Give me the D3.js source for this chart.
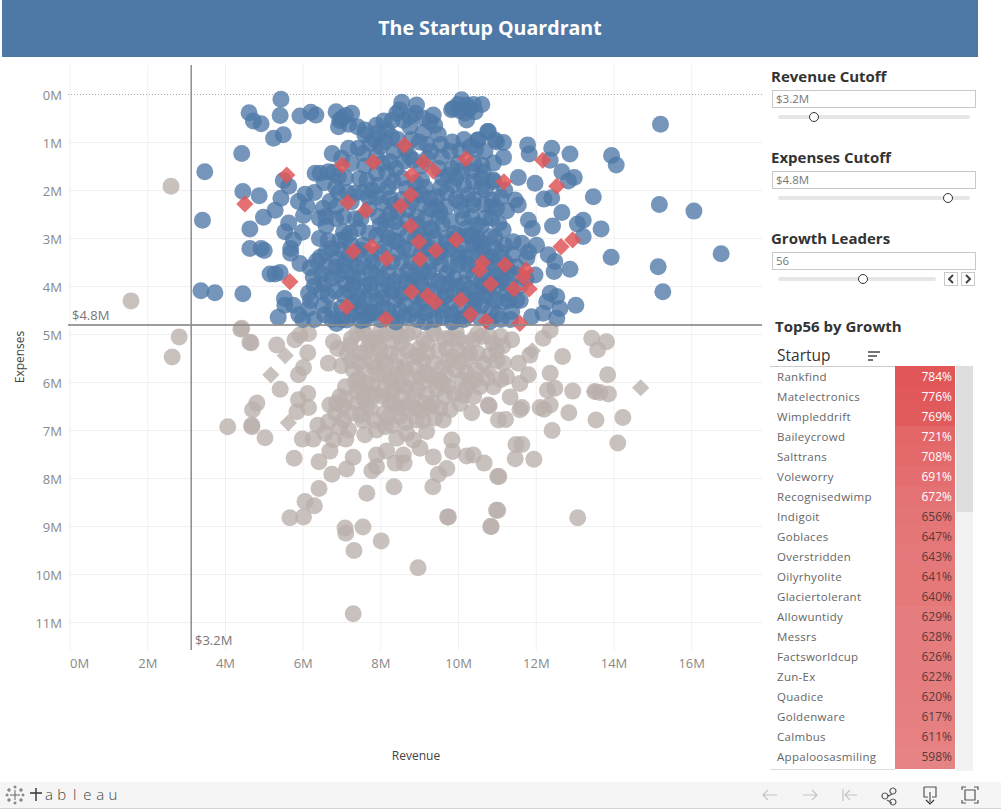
<!DOCTYPE html>
<html>
<head>
<meta charset="utf-8">
<script src="https://cdn.jsdelivr.net/npm/d3@7"></script>
<style>
html,body{margin:0;padding:0;background:#fff;overflow:hidden}
svg{display:block}
text{font-family:"Open Sans",sans-serif}
</style>
</head>
<body>
<svg id="viz" width="1001" height="811"></svg>
<script>
var xTicks = [0,2,4,6,8,10,12,14,16]
var yTicks = [0,1,2,3,4,5,6,7,8,9,10,11]
var revenueCutoff = 3.13, expensesCutoff = 4.81
var revenueLabel = "$3.2M", expensesLabel = "$4.8M", leadersLabel = "56"

var startups = ["Rankfind","Matelectronics","Wimpleddrift","Baileycrowd","Salttrans","Voleworry","Recognisedwimp","Indigoit","Goblaces","Overstridden","Oilyrhyolite","Glaciertolerant","Allowuntidy","Messrs","Factsworldcup","Zun-Ex","Quadice","Goldenware","Calmbus","Appaloosasmiling"]
var growth = [784,776,769,721,708,691,672,656,647,643,641,640,629,628,626,622,620,617,611,598]

// [revenue, expenses] in $M
var inQuadrant = [
[5.44,.11],[4.62,.39],[5.42,.45],[4.73,.56],[4.93,.62],[5.93,.46],[6.21,.38],[6.34,.44],[6.86,.37],[7.26,.40],[7,.51],[6.92,.68],[7.18,.63],[7.41,.68],[5.5,.85],[5.25,.92],[4.43,1.24],[3.48,1.62],[4.46,2.03],[4.88,2.12],[3.42,2.63],[4.64,2.81],[4.64,3.22],[4.93,3.22],[5.01,3.26],[4.99,2.57],[5.29,2.42],[5.44,2.17],[5.5,1.8],[5.64,1.92],[6.06,2.09],[5.89,2.24],[6.12,2.35],[6.02,2.53],[6.43,2.59],[5.64,2.69],[5.54,2.87],[5.99,2.88],[6.43,3.01],[5.76,3.04],[5.69,3.22],[5.69,3.32],[6.36,3.48],[5.93,3.53],[6.19,3.62],[6.27,3.81],[5.16,3.75],[5.29,3.75],[5.42,3.72],[3.38,4.1],[3.74,4.14],[4.46,4.16],[5.37,4.65],[5.54,4.4],[5.53,4.26],[5.76,4.4],[6.15,4.15],[6.15,4.47],[6.49,4.12],[6.56,4.6],[6.53,4.4],[6.32,1.65],[6.45,1.65],[6.66,1.62],[6.79,1.63],[6.76,1.24],[7,1.34],[7.18,1.13],[7.43,1.13],[7.46,1.76],[6.92,1.72],[6.92,2.05],[6.7,2.24],[6.53,2.38],[6.87,2.35],[7.35,2.07],[7.78,2],[7.43,2.8],[7.05,2.87],[7.22,2.9],[6.75,3.22],[6.87,3.42],[7.05,3.56],[6.92,3.77],[7.3,3.98],[7.05,4.19],[7.39,4.53],[7.13,4.71],[7.65,4.26],[7.69,4.6],[6.87,4.78],
[8.09,.56],[8.55,.17],[8.93,.23],[8.5,.33],[8.76,.47],[8.42,.4],[9.36,.44],[9.28,.58],[9.49,.84],[8.76,.68],[8.16,.75],[7.86,.96],[7.73,1.03],[7.56,1.24],[8,1.1],[8.29,.89],[8.61,1.4],[8.85,1.38],[8.25,1.41],[8.16,1.62],[7.9,1.65],[8.33,1.83],[8.06,2.28],[8.25,2.17],[8.68,1.97],[9.06,1.79],[9.28,2.17],[9.45,2.14],[9.88,1.9],[9.79,1.2],[10.05,1.17],[9.58,1.31],[9.84,1.55],[10.39,1.83],[10.91,1.83],[10.09,.12],[10.22,.23],[9.88,.3],[10.61,.22],[10.44,.37],[10.18,.4],[10.22,.54],[10.78,.78],[10.99,1],[10.52,.96],[10.69,1.2],[10.31,1.1],[10.91,1.44],[10.65,1.62],[10.87,2.21],[10.69,2.59],[10.48,2.73],[10.99,2.38],[10.13,2.59],[9.53,2.45],[8.93,2.56],[8.38,2.66],[8,2.73],[8.42,3.08],[9.28,2.8],[9.53,3.28],[10.01,3.42],[10.39,3.15],[10.82,2.97],[10.22,3.7],
[9.83,.33],[10.76,.78],[10.5,.96],[10.95,.96],[11.17,1.01],[11.79,1.06],[12.41,1.13],[12.88,1.25],[11.83,1.25],[13.95,1.28],[14.07,1.48],[15.21,.63],[11.17,1.32],[10.61,1.48],[12.37,1.38],[12.67,1.62],[12.99,1.74],[12.84,1.81],[11.55,1.74],[10.91,1.79],[11.98,1.86],[13.48,2.14],[15.18,2.3],[16.07,2.44],[12.41,2.16],[12.21,2.19],[11.47,2.21],[11.55,2.31],[12.67,2.47],[10.86,2.35],[11.25,2.43],[11.81,2.63],[11.91,2.8],[12.43,2.75],[13.22,2.63],[13.07,2.71],[13.22,2.97],[13.68,2.81],[11.16,2.83],[11.42,3.08],[11.64,3.11],[12.02,3.15],[11.81,3.29],[12.32,3.35],[12.49,3.49],[13.94,3.4],[12.88,3.65],[12.47,3.7],[15.15,3.6],[16.77,3.33],[15.27,4.12],[11.77,3.42],[11.98,3.77],[12.37,4.15],[12.54,4.22],[13.03,4.4],[12.62,4.47],[12.28,4.33],[11.89,4.64],[12.19,4.57],[12.54,4.67],[11.16,4.33],[11.38,4.53],[11.51,4.29],[10.99,3.77],[10.73,3.42],[10.95,3.22],[10.44,3.08],[10.65,3.22],[10.39,2.31],[10.86,2.59],[10.05,4.67],[10.82,4.74],[10.26,4.6],[10.48,4.12],[10.82,4.19],
[7.1,3],[7.4,3.3],[7.6,3.6],[7.3,3.8],[7.6,4],[7.9,3.8],[8,3.3],[8.2,3],[8.5,2.8],[8.3,3.5],[8.6,3.2],[8.8,3.5],[8.5,3.8],[8.2,4],[7.9,4.3],[8.2,4.5],[8.5,4.2],[8.8,4],[9.1,3.7],[9.3,3.5],[9.6,3.3],[9.8,3.6],[9.5,3.9],[9.2,4.1],[8.9,4.5],[9.3,4.5],[9.7,4.2],[10,4],[10.2,3.4],[10.4,3.8],[10.6,4.4],[10,4.5],[9.6,4.65],[8.6,4.65],[8,4.7],[7.6,4.7],[7.4,4.2],[8.7,2.4],[9,2.9],[9.3,2.4],[9.6,2.7],[9.9,2.9],[10.2,2.8],[10.5,3],[10.8,3.6],[11,4],[11.3,3.7],[11.3,4.3],[11,4.6],[8.9,2.1],
[7.7,2.4],[7.5,2.6],[7.9,2.95],[8.25,2.5],[8.7,2.65],[9.1,2.3],[9.4,3],[9.15,3.2],[8.9,3],[7.25,3.5],[7.8,3.5],[8.35,4.3],[8.65,4.4],[9.05,4.35],[9.5,4.4],[9.85,4.35],[10.3,4.3],[10.65,4],[10.9,3.9],[11.15,3.9],[11.5,3.6],[11.6,4],[11.2,3.5],[10.05,3.15],[10.25,2.95],[9.7,3],[8.95,3.85],[9.75,3.95],[8.05,4.1],[7.75,4.55],[7.3,4.35],[7.55,3.15],[7.25,3.15],[9.05,1.5],[9.3,1.2],[9,1],[8.65,1.15],[8.35,1.2],[9.6,1.75],[10.1,1.6],[10.4,1.45],[10.7,2],[10.25,2.1],[9.95,2.2],[9.7,2.35],[7.6,1.5],[7.25,1.45],[7.1,1.75],[7.7,2.15],[8.55,2.2],[9.1,.8],[7.95,.8],
[7.05,2.55],[7.35,2.6],[7.95,2.55],[8.15,2.62],[8.45,2.45],[8.95,2.72],[9.15,2.6],[9.5,2.55],[9.8,2.65],[10.1,2.42],[10.35,2.55],[10.6,2.75],[11.05,2.7],[6.95,3.05],[7.7,2.9],[8.1,2.85],[8.35,3.05],[8.7,2.95],[9.1,3.05],[9.35,2.85],[9.7,3.1],[10,2.95],[10.35,2.95],[10.6,3.1],[10.95,3],[11.2,3.15],
[6.6,3.3],[7,3.25],[7.2,3.35],[7.5,3.25],[7.75,3.35],[8.1,3.2],[8.45,3.3],[8.75,3.25],[9.05,3.3],[9.25,3.2],[9.45,3.4],[9.75,3.25],[10,3.3],[10.35,3.35],[10.6,3.3],[10.85,3.4],[11.1,3.3],[11.4,3.35],
[6.6,3.6],[6.85,3.6],[7.1,3.7],[7.4,3.6],[7.75,3.7],[8.05,3.55],[8.2,3.7],[8.55,3.5],[8.7,3.7],[9,3.55],[9.25,3.7],[9.55,3.55],[9.7,3.75],[10,3.55],[10.25,3.55],[10.5,3.6],[10.65,3.75],[10.95,3.55],[11.25,3.6],[11.45,3.75],
[6.55,3.95],[6.75,3.85],[7.1,3.95],[7.45,3.85],[7.75,3.95],[8.05,3.85],[8.35,3.9],[8.65,3.9],[8.85,3.8],[9.05,3.95],[9.3,3.85],[9.6,4],[9.9,3.85],[10.15,3.95],[10.3,4.05],[10.6,3.9],[10.8,4],[11.1,3.85],[11.35,4],[11.75,3.85],
[6.65,4.2],[6.85,4.1],[7.2,4.1],[7.45,4.3],[7.75,4.1],[8.05,4.25],[8.3,4.1],[8.6,4.15],[8.9,4.2],[9.1,4.25],[9.4,4.15],[9.6,4.25],[9.9,4.15],[10.15,4.2],[10.45,4.3],[10.7,4.2],[10.95,4.3],[11.25,4.15],[11.6,4.3],
[6.75,4.5],[7,4.45],[7.25,4.6],[7.5,4.45],[7.85,4.55],[8.05,4.45],[8.3,4.65],[8.5,4.5],[8.75,4.6],[8.95,4.7],[9.15,4.55],[9.4,4.7],[9.6,4.5],[9.85,4.6],[10.15,4.7],[10.4,4.45],[10.55,4.65],[10.85,4.5],[11.1,4.7],[11.35,4.7],[6.75,4.7],[7,4.7],[7.5,4.72],[8.4,4.75],[9.15,4.75],[9.85,4.75],
[6.65,3.05],[6.45,3.4],[6.5,3.75],[6.3,4],[6.2,4.3],[6.3,4.7],[5.9,4.6],[6,4.7],
[7.6,.85],[8.1,1],[8.45,.95],[8.8,.95],[9.2,1.05],[9.55,1.05],[9.85,1],[10.15,.95],[10.45,1.15],[7.9,1.3],[8.05,1.45],[8.4,1.55],[8.75,1.3],[9.2,1.35],[9.5,1.55],[9.75,1.7],[10,1.45],[10.35,1.6],[10.6,1.75],
[7.65,1.8],[7.95,1.9],[8.2,1.95],[8.55,1.75],[8.9,1.85],[9.15,1.95],[9.55,1.95],[9.95,1.75],[10.15,1.9],[10.6,1.95],[7.25,2.25],[7.55,2.05],[7.9,2.15],[8.35,2.3],[8.8,2.25],[9.05,2.1],[9.45,2.35],[9.7,2.05],[10.05,2.25],[10.4,2.2],[10.65,2.3],[11.1,2.15],[11.2,2],
[8.9,.4],[9.1,.5],[8.3,.55],[8.6,.55],[7.9,.65],[9.4,.65],[7.6,.75],[6.95,.55],[7.1,.45],[10.05,.35],[10.3,.3],[10.4,.22],[10,.22],
[6.55,1.85],[6.3,2.05],[6.85,2.6],[6.6,2.75],[6.85,1.95],[7.15,2.05],[6.6,2.55]
]
var leaders = [
[8.62,1.07],[7.02,1.48],[7.82,1.42],[8.81,1.69],[9.11,1.42],[9.36,1.6],[10.2,1.35],[5.59,1.69],[4.51,2.29],[7.16,2.26],[7.62,2.43],[8.78,2.1],[8.52,2.33],[8.78,2.75],[9.95,3.04],[8.99,3.08],[9.43,3.26],[7.3,3.28],[7.78,3.18],[8.16,3.43],[9.02,3.44],[10.63,3.51],[10.55,3.67],[5.67,3.91],[10.84,3.96],[8.8,4.12],[9.21,4.2],[9.41,4.34],[10.07,4.29],[7.13,4.43],[10.32,4.59],[8.14,4.69],[10.72,4.73],[11.18,1.83],[12.18,1.38],[12.54,1.92],[12.65,3.18],[12.95,3.04],[11.75,3.67],[11.68,3.81],[11.21,3.56],[11.44,4.06],[11.83,4.06],[11.59,4.78]
]
var outside = [
[1.58,4.31],[2.82,5.06],[2.64,5.48],[2.61,1.92],[4.41,4.9],[4.64,5.17],
[4.43,4.88],[4.67,5.18],[5.33,5.23],[5.8,5.12],[5.93,5.02],[6.15,4.99],[6.13,5.39],[6.66,5.61],[7,5.66],[6.02,5.7],[5.89,5.85],[5.42,6.15],[6.13,6.24],[5.89,6.37],[6.15,6.53],[5.85,6.62],[4.82,6.44],[4.71,6.58],[4.07,6.93],[4.69,6.9],[4.69,6.93],[5.03,7.16],[5.99,7.19],[6.27,7.19],[6.39,6.9],[6.66,6.83],[6.57,7.07],[6.79,7.21],[6.7,7.44],[7.11,7.19],[7.18,7],[7.6,7.1],[5.78,7.59],[6.42,7.66],[6.75,7.92],[7.13,7.81],[7.3,7.57],[7.78,7.85],[7.9,7.76],[7.9,7.52],[8.16,7.44],[8.38,7.69],[8.61,7.69],[8.59,7.52],[8.35,8.18],[7.65,8.32],[6.42,8.22],[6.06,8.49],[6.3,8.58],[5.67,8.83],[6.02,8.81],[7.09,9.04],[7.55,9.02],[7.11,9.15],[7.32,9.51],[8.02,9.31],[8.97,9.87],[7.3,10.83],[9.73,8.81],[9.35,8.18],[9.49,7.92],[9.71,7.8],[9.84,7.21],[9.86,7.45],[9.36,7.56],[10.22,7.54],[10.39,7.52],[10.67,7.69],[11.02,7.97],[10.99,8.67],[10.84,9.01],[10.35,6.64],[10.78,6.48],[11.04,6.79],[9.62,6.79],[9.53,6.55],[9.02,7.38],[8.85,7.21],[8.42,7.17],[8.12,6.93],[8.68,7.07],[9.19,7.03],[7.48,6.69],[7.05,6.79],[6.87,6.44],[7.05,6.51],[6.7,6.48],[6.96,6.3],[7.56,6.34],[7.86,6.27],[8.25,6.44],[8.5,6.72],[8.93,6.79],[8.85,6.27],[9.28,6.51],[9.79,6.58],[10.13,6.27],[10.56,6.1],[10.91,6.1],[7.43,5.92],[7.3,5.75],[7.65,6.03],[8.08,6.17],[8.5,6.03],[9.02,5.89],[9.53,5.96],[10.22,5.82],[10.74,5.92],[7.22,5.23],[7.48,5.4],[7.82,5.58],[8.25,5.4],[8.42,5.68],[8.85,5.47],[9.36,5.61],[9.88,5.47],[10.65,5.61],[10.99,5.33],[10.39,5.12],[9.79,5.09],[9.11,5.12],[8.5,5.05],[7.9,5.09],[7.39,4.99],[6.79,5.16],
[13.44,5.09],[13.82,5.16],[13.59,5.33],[12.69,5.47],[12.19,5.09],[12.37,4.92],[11.85,5.44],[11.55,5.61],[11.38,5.12],[11.16,5.61],[13.85,5.85],[12.37,5.82],[11.81,5.85],[12.49,6.13],[12.3,6.17],[12.95,6.19],[13.87,6.25],[13.65,6.22],[13.52,6.2],[11.25,5.89],[11.59,6.03],[11.34,6.31],[12.37,6.48],[12.21,6.57],[12.11,6.53],[11.64,6.53],[11.59,6.58],[12.85,6.64],[13.55,6.79],[14.24,6.74],[11.22,6.78],[12.42,7.01],[10.8,6.5],[14.11,7.27],[11.64,7.3],[11.49,7.3],[11.47,7.6],[11.95,7.61],[11.05,7.97],[11.02,8.67],[10.85,9.01],[13.08,8.83],[9.75,8.81],
[7.6,5],[8,4.95],[8.3,5.15],[8.7,5],[9,5.3],[9.4,5],[9.7,5.3],[10,5.1],[10.3,5.4],[10.6,5.05],[10.9,5.2],[7.7,5.25],[8.05,5.55],[8.6,5.7],[9.1,5.55],[9.6,5.7],[10.05,5.6],[10.45,5.75],[7.95,5.85],[8.25,5.95],[8.75,5.95],[9.25,5.85],[9.75,6.1],[10.3,6],[8.3,6.2],[8.75,6.45],[9.2,6.25],[9.65,6.3],[10.05,6.45],[7.75,6.55],[8.1,6.65],[9.05,6.6],[8.45,6.55],[7.4,6.2],[7.1,6.1],[9.4,6.75],[11.15,5.25],[11.1,5.95],[7.15,5.4],[6.9,5.3],
[7.25,5.1],[7.55,4.9],[7.75,5.15],[8.15,5],[8.4,4.95],[8.55,5.2],[8.85,4.95],[9.2,5.2],[9.35,4.9],[9.65,5.1],[9.95,4.95],[10.2,5.2],[10.5,5],[10.8,5.05],[11.1,5.05],[7.95,5.25],
[7.45,5.6],[7.6,5.4],[8,5.35],[8.15,5.6],[8.45,5.45],[8.7,5.35],[8.95,5.45],[9.2,5.4],[9.5,5.35],[9.75,5.55],[10,5.35],[10.25,5.5],[10.5,5.4],[10.8,5.45],[11,5.55],[7.25,5.55],
[7.6,5.75],[7.85,5.7],[8.1,5.85],[8.4,5.85],[8.65,5.75],[8.9,5.7],[9.15,5.8],[9.4,5.95],[9.7,5.85],[9.95,5.75],[10.1,5.95],[10.45,5.95],[7.35,6],[7.8,6.05],
[8.05,6.3],[8.35,6.1],[8.65,6.1],[8.95,6.15],[9.1,6],[9.45,6.15],[9.6,6.05],[9.9,6.25],[10.2,6.15],[10.4,6.3],[7.45,6.1],[7.7,6.25],[8.55,6.3],
[7.4,6.45],[7.25,6.65],[7.65,6.5],[7.55,6.8],[7.85,6.8],[8.2,6.75],[8.35,6.45],[8.65,6.55],[8.9,6.55],[9.1,6.8],[9.35,6.45],[9.15,6.45],[8.3,6.9],[8.65,6.85],[7.9,7],[6.85,6.65],[6.95,6.95],[7.1,6.35]
]
var outsideLeaders = [[5.55,5.45],[5.18,5.85],[5.63,6.85],[11.91,5.35],[13.51,6.2],[14.7,6.12],[10.8,5.78]]
var brandLetters = ["a","b","l","e","a","u"]

var svg = d3.select("#viz")
var x = d3.scaleLinear().domain([0,16]).range([69.6,691.2])
var y = d3.scaleLinear().domain([0,11]).range([94,622])
var grey = "#898989"

// title band
svg.append("rect").attr("x",2).attr("y",0).attr("width",976).attr("height",57).attr("fill","#4e79a7")
svg.append("text").attr("x",490).attr("y",35).attr("text-anchor","middle").attr("fill","#fff")
	.style("font-size","19.6px").style("font-weight",700).text("The Startup Quardrant")

// axes, with the grid as long ticks
var xAxis = d3.axisBottom(x).tickValues(xTicks).tickFormat(function(d){return d+"M"}).tickSize(-585).tickPadding(6)
var yAxis = d3.axisLeft(y).tickValues(yTicks).tickFormat(function(d){return d+"M"}).tickSize(-694).tickPadding(6)
var gx = svg.append("g").attr("transform","translate(0,650)").call(xAxis)
var gy = svg.append("g").attr("transform","translate(68,0)").call(yAxis)
gx.select(".domain").remove()
gy.select(".domain").remove()
gx.selectAll("line").attr("stroke","#f0f0f0")
gy.selectAll("line").attr("stroke","#f0f0f0")
gy.selectAll(".tick").filter(function(d){return d==0}).select("line").attr("stroke","#aaa").attr("stroke-dasharray","1,2")
gx.selectAll("text").attr("fill",grey).style("font-size","13px").attr("dy","0.95em")
gx.selectAll("text").filter(function(d){return d==0}).attr("dx",9.5)
gy.selectAll("text").attr("fill",grey).style("font-size","13px").attr("dy","0.4em")

svg.append("text").attr("x",416).attr("y",760).attr("text-anchor","middle").attr("fill","#444").style("font-size","12px").text("Revenue")
svg.append("text").attr("transform","translate(24,357) rotate(-90)").attr("text-anchor","middle").attr("fill","#444").style("font-size","12px").text("Expenses")

// marks
var diamond = d3.symbol().type(d3.symbolSquare).size(148)
var plot = svg.append("g")
plot.selectAll("circle.out").data(outside).join("circle").attr("class","out")
	.attr("cx",function(d){return x(d[0])}).attr("cy",function(d){return y(d[1])}).attr("r",8.5)
	.attr("fill","#bab0ac").attr("fill-opacity",.78)
plot.selectAll("path.outl").data(outsideLeaders).join("path").attr("class","outl").attr("d",diamond)
	.attr("transform",function(d){return "translate("+x(d[0])+","+y(d[1])+") rotate(45)"})
	.attr("fill","#bab0ac").attr("fill-opacity",.78)
plot.selectAll("circle.in").data(inQuadrant).join("circle").attr("class","in")
	.attr("cx",function(d){return x(d[0])}).attr("cy",function(d){return y(d[1])}).attr("r",8.5)
	.attr("fill","#4e79a7").attr("fill-opacity",.78)
plot.selectAll("path.lead").data(leaders).join("path").attr("class","lead").attr("d",diamond)
	.attr("transform",function(d){return "translate("+x(d[0])+","+y(d[1])+") rotate(45)"})
	.attr("fill","#e15759").attr("fill-opacity",.85)

// cutoff lines
svg.append("line").attr("x1",x(revenueCutoff)).attr("x2",x(revenueCutoff)).attr("y1",65).attr("y2",650).attr("stroke","#8c8c8c").attr("stroke-width",1.5)
svg.append("line").attr("x1",68).attr("x2",762).attr("y1",y(expensesCutoff)).attr("y2",y(expensesCutoff)).attr("stroke","#8c8c8c").attr("stroke-width",2).attr("stroke-opacity",.85)
svg.append("text").attr("x",72).attr("y",320).attr("fill","#777").style("font-size","13px").text(expensesLabel)
svg.append("text").attr("x",195).attr("y",645).attr("fill","#777").style("font-size","13px").text(revenueLabel)

// parameter controls
function control(title,value,top,handle,trackEnd){
	svg.append("text").attr("x",771).attr("y",top).attr("fill","#333").style("font-size","15px").style("font-weight",700).text(title)
	svg.append("rect").attr("x",772.5).attr("y",top+8.5).attr("width",203).attr("height",17).attr("fill","#fff").attr("stroke","#c9c9c9")
	svg.append("text").attr("x",776).attr("y",top+21).attr("fill","#777").style("font-size","11.5px").text(value)
	svg.append("rect").attr("x",778).attr("y",top+33).attr("width",trackEnd-778).attr("height",4).attr("rx",2).attr("fill","#e6e6e6")
	svg.append("circle").attr("cx",handle).attr("cy",top+35).attr("r",4.5).attr("fill","#fff").attr("stroke","#333")
}
control("Revenue Cutoff",revenueLabel,82,814,970)
control("Expenses Cutoff",expensesLabel,163,948,970)
control("Growth Leaders",leadersLabel,244,863,936)
;[944,961].forEach(function(bx,i){
	svg.append("rect").attr("x",bx+.5).attr("y",272.5).attr("width",13).attr("height",13).attr("fill","#fff").attr("stroke","#c9c9c9")
	var c = bx+7
	svg.append("path").attr("d",i==0?"M"+(c+2)+",275L"+(c-2)+",279L"+(c+2)+",283":"M"+(c-2)+",275L"+(c+2)+",279L"+(c-2)+",283").attr("fill","none").attr("stroke","#444").attr("stroke-width",2)
})

// top table
svg.append("text").attr("x",775).attr("y",332).attr("fill","#333").style("font-size","15px").style("font-weight",700).text("Top"+leadersLabel+" by Growth")
svg.append("text").attr("x",777).attr("y",361).attr("fill","#333").style("font-size","15.5px").text("Startup")
;[[868,880,352],[868,877,356],[868,873,360]].forEach(function(s){
	svg.append("line").attr("x1",s[0]).attr("x2",s[1]).attr("y1",s[2]).attr("y2",s[2]).attr("stroke","#444").attr("stroke-width",1.5)
})
svg.append("line").attr("x1",770).attr("x2",955).attr("y1",366.5).attr("y2",366.5).attr("stroke","#ccc")
svg.append("line").attr("x1",770).attr("x2",895).attr("y1",769.5).attr("y2",769.5).attr("stroke","#ddd")
svg.append("rect").attr("x",956).attr("y",366).attr("width",17).attr("height",405).attr("fill","#f2f2f2")
svg.append("rect").attr("x",956).attr("y",366).attr("width",17).attr("height",146).attr("fill","#dedede")

var rowY = d3.scaleBand().domain(startups).range([366,766])
var heat = d3.scaleLinear().domain([598,784]).range(["#e68384","#e15759"])
svg.append("rect").attr("x",895).attr("y",766).attr("width",60).attr("height",3).attr("fill",heat(595))
var rows = svg.append("g").selectAll("g").data(startups).join("g")
	.attr("transform",function(d){return "translate(0,"+rowY(d)+")"})
rows.append("rect").attr("x",895).attr("width",60).attr("height",rowY.bandwidth()+.5)
	.attr("fill",function(d,i){return heat(growth[i])})
rows.append("text").attr("x",777).attr("y",15).attr("fill","#666").style("font-size","11.5px").style("letter-spacing","0.3px").text(function(d){return d})
rows.append("text").attr("x",952).attr("y",15).attr("text-anchor","end").style("font-size","12px")
	.attr("fill",function(d,i){return growth[i]>=670?"#fff":"#5a3a3a"})
	.text(function(d,i){return growth[i]+"%"})

// footer
svg.append("rect").attr("x",0).attr("y",782).attr("width",1001).attr("height",26).attr("fill","#f5f5f5")
svg.append("line").attr("x1",0).attr("x2",1001).attr("y1",808.5).attr("y2",808.5).attr("stroke","#d4d4d4")
var logo = svg.append("g").attr("stroke","#666").attr("stroke-width",1)
;[[15,795,5],[9,790,2],[21,790,2],[9,800,2],[21,800,2],[15,787,1.5],[15,803,1.5],[7,795,1.5],[23,795,1.5]].forEach(function(p){
	logo.append("line").attr("x1",p[0]).attr("x2",p[0]).attr("y1",p[1]-p[2]).attr("y2",p[1]+p[2])
	logo.append("line").attr("x1",p[0]-p[2]).attr("x2",p[0]+p[2]).attr("y1",p[1]).attr("y2",p[1])
})
logo.append("path").attr("d","M36,788V801M30,793H42").attr("stroke","#333").attr("stroke-width",1.4)
var brandX = d3.scalePoint().domain(d3.range(brandLetters.length)).range([49,113])
svg.append("g").selectAll("text").data(brandLetters).join("text")
	.attr("x",function(d,i){return brandX(i)}).attr("y",800).attr("text-anchor","middle")
	.attr("fill","#444").style("font-size","15px").style("font-weight",300).text(function(d){return d})
var icons = svg.append("g").attr("fill","none").attr("stroke-width",1.2)
icons.append("path").attr("stroke","#c4c4c4").attr("d","M777,795H763M768,790L763,795L768,800")
icons.append("path").attr("stroke","#c4c4c4").attr("d","M803,795H817M812,790L817,795L812,800")
icons.append("path").attr("stroke","#c4c4c4").attr("d","M843,789V801M857,795H845M850,790L845,795L850,800")
icons.append("path").attr("stroke","#555").attr("d","M893,788a3,3 0 1,1 -.1,0M885,793a3,3 0 1,1 -.1,0M893,799a3,3 0 1,1 -.1,0M887,797L892,794M887,800L892,803")
icons.append("path").attr("stroke","#555").attr("d","M924,787H936V797H932M928,797H924V787M930,792V802")
icons.append("path").attr("stroke","#333").attr("d","M926,800L930,804L934,800")
icons.append("path").attr("stroke","#555").attr("d","M962,790V787H966M974,787H978V790M978,800V803H974M966,803H962V800M965,790H975V800H965Z")
</script>
</body>
</html>
